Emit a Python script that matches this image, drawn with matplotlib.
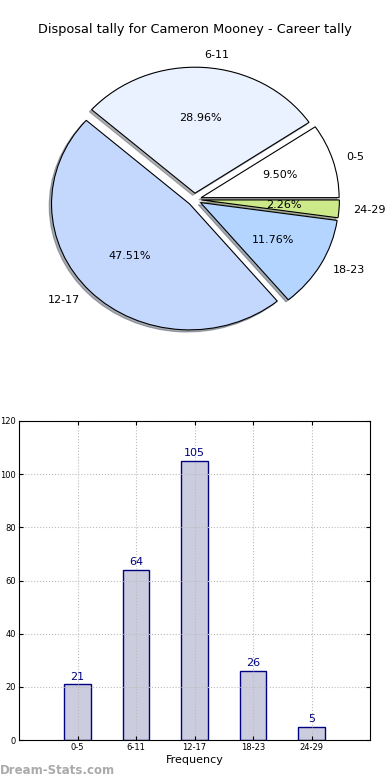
import matplotlib
matplotlib.use('Agg')
import matplotlib.pyplot as plt

# Dados do jogador
faixas = ['0-5', '6-11', '12-17', '18-23', '24-29']
frequencias = [21, 64, 105, 26, 5]
cores_fatias = ['#ffffff', '#eaf2ff', '#c4d8fe', '#b3d5ff', '#cdea8a']
titulo = 'Disposal tally for Cameron Mooney - Career tally'

fig = plt.figure(figsize=(3.9, 7.8), dpi=100)

# Pizza no topo
ax1 = fig.add_axes([22 / 390, 1 - 357 / 780, 345 / 390, 315 / 780])
fatias, rotulos, pcts = ax1.pie(frequencias, labels=faixas, colors=cores_fatias,
                                explode=[0.05] * len(frequencias), autopct='%.2f%%',
                                shadow={'ox': -0.012, 'oy': -0.012, 'shade': 0.6},
                                startangle=0,
                                wedgeprops={'linewidth': 0.8, 'edgecolor': 'black'},
                                textprops={'fontsize': 8})
ax1.set_aspect('auto')
fig.text(0.5, 1 - 30 / 780, titulo, ha='center', va='center', fontsize=9.3)

# Barras embaixo
ax2 = fig.add_axes([19 / 390, 1 - 740 / 780, 351 / 390, 319 / 780])
x = range(len(faixas))
barras = ax2.bar(x, frequencias, width=0.45, color='#ccccdf', edgecolor='#000080', linewidth=1)
for xi, v in zip(x, frequencias):
    ax2.text(xi, v + 1, str(v), ha='center', va='bottom', color='#000080', fontsize=8)
ax2.set_xlim(-1, 5)
ax2.set_ylim(0, 120)
ax2.set_xticks(list(x))
ax2.set_xticklabels(faixas)
ax2.set_yticks(range(0, 121, 20))
ax2.tick_params(labelsize=6, direction='in', top=True, right=True, length=3, pad=2)
ax2.grid(True, linestyle=':', color='#bbbbbb', linewidth=0.8)
ax2.set_axisbelow(False)
for spine in ax2.spines.values():
    spine.set_zorder(3)
ax2.set_xlabel('Frequency', fontsize=8, labelpad=2.5)

fig.text(0.0, 1 - 770 / 780, 'Dream-Stats.com', ha='left', va='center', fontsize=8.5,
         color='#aaaaaa', fontweight='bold')

plt.savefig('out.png', dpi=100)
